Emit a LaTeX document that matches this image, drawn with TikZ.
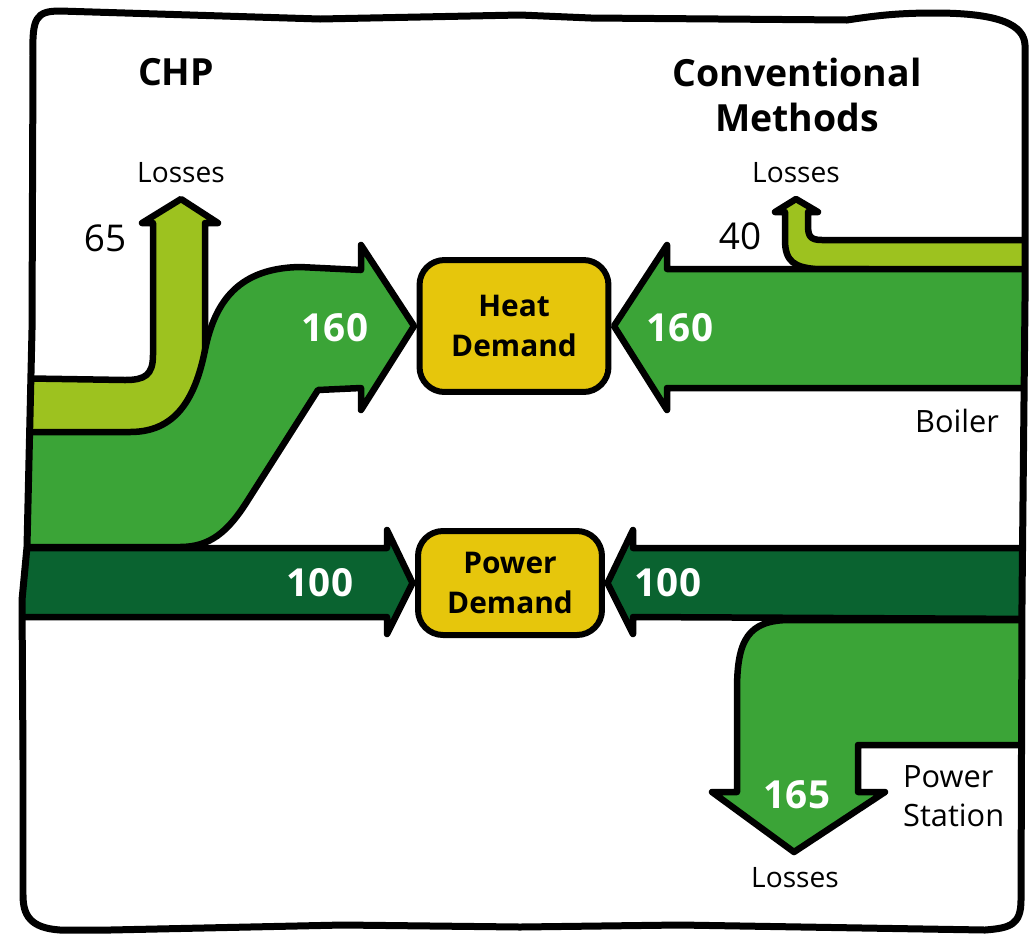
\documentclass[tikz,border=0pt]{standalone}
\usepackage{fontspec}
\setmainfont{Open Sans}
\usetikzlibrary{positioning}

\definecolor{lossgreen}{HTML}{9DC21F}
\definecolor{heatgreen}{HTML}{3BA437}
\definecolor{powergreen}{HTML}{0A6330}
\definecolor{demandyellow}{HTML}{E6C60C}

\begin{document}
\begin{tikzpicture}[
        x=0.02cm, y=-0.02cm,
        flow/.style={draw, line width=0.13cm, line join=round},
        demand/.style={rectangle, draw, line width=0.12cm, rounded corners=0.5cm, outer sep=0.11cm,
            fill=demandyellow, align=center, font=\fontsize{17}{22.5}\selectfont\bfseries},
        val/.style={text=white, font=\fontsize{22}{26}\selectfont\bfseries},
        num/.style={font=\fontsize{21}{25}\selectfont},
        lbl/.style={font=\fontsize{16}{20}\selectfont},
        side/.style={font=\fontsize{17.5}{22.5}\selectfont, align=left},
        title/.style={font=\fontsize{21.3}{26}\selectfont\bfseries, align=center}
    ]
    \useasboundingbox (0,0) rectangle (1034,934);
    \path[save path=\outline] (33,55) .. controls (32,18) and (36,11) .. (60,11) -- (320,19) -- (520,15)
        -- (591,18) -- (847,20) .. controls (880,15) and (900,13) .. (935,13)
        .. controls (1000,13) and (1024,25) .. (1025,45) -- (1025,300) -- (1022,600) -- (1021,900)
        .. controls (1021,925) and (1010,928) .. (985,930) -- (680,925) -- (520,927) -- (343,925)
        -- (110,930) -- (60,930) .. controls (30,928) and (23,915) .. (23,895) -- (23,760)
        -- (22,600) -- (27,547) -- (32,330) -- cycle;

    \node[demand, minimum width=3.78cm, minimum height=2.64cm] (heat) at (514,326) {Heat\\Demand};
    \node[demand, minimum width=3.68cm, minimum height=2.08cm] (power) at (510,583) {Power\\Demand};

    \begin{scope}
        \clip[use path=\outline];
        % CHP side
        \draw[flow, fill=lossgreen] (0,378) -- (125,380) .. controls (145,380) and (153,375) .. (153,355)
            -- (153,223) -- (142,223) -- (181,199) -- (218,223) -- (205,223) -- (205,380)
            -- (175,445) -- (0,445) -- cycle;
        \draw[flow, fill=heatgreen] (0,432) -- (130,432) .. controls (175,432) and (195,400) .. (205,350)
            .. controls (215,300) and (240,268) .. (300,267) -- (361,270) -- (361,245) -- (heat.west)
            -- (361,410) -- (361,388) -- (318,390) -- (248,500) .. controls (228,532) and (210,547) .. (180,547)
            -- (0,547) -- cycle;
        \draw[flow, fill=powergreen] (0,548) -- (387,548) -- (387,530) -- (power.west) -- (387,634)
            -- (387,617) -- (0,617) -- cycle;
        % conventional side
        \draw[flow, fill=lossgreen] (1040,240) -- (822,240) .. controls (810,240) and (808,236) .. (808,225)
            -- (808,212) -- (818,212) -- (796,199) -- (775,212) -- (785,212) -- (785,240)
            .. controls (785,262) and (795,267) .. (815,269) -- (1040,270) -- cycle;
        \draw[flow, fill=heatgreen] (1040,269) -- (667,269) -- (667,245) -- (heat.east) -- (667,410)
            -- (667,388) -- (1040,388) -- cycle;
        \draw[flow, fill=powergreen] (1040,548) -- (633,548) -- (633,530) -- (power.east) -- (633,634)
            -- (633,617) -- (1040,619) -- cycle;
        \draw[flow, fill=heatgreen] (1040,620) -- (790,620) .. controls (748,620) and (737,640) .. (737,690)
            -- (737,792) -- (712,792) -- (794,852) -- (885,792) -- (858,792) -- (858,745) -- (1040,745) -- cycle;
    \end{scope}
    \draw[line width=0.14cm, line join=round, use path=\outline];

    \node[title] (chp) at (176,72) {CHP};
    \node[title] (conv) at (797,95) {Conventional\\Methods};

    \node[lbl] (chploss) at (181,173) {Losses};
    \node[num] (chplossval) at (105,238) {65};
    \node[val] (chpheat) at (335,328) {160};
    \node[val] (chppower) at (320,583) {100};

    \node[lbl] (boilloss) at (796,173) {Losses};
    \node[num] (boillossval) at (740,236) {40};
    \node[val] (boilheat) at (680,328) {160};
    \node[side] (boiler) at (957,421) {Boiler};
    \node[val] (stationpower) at (668,583) {100};
    \node[val] (stationlossval) at (797,795) {165};
    \node[lbl] (stationloss) at (795,878) {Losses};
    \node[side, anchor=west] (station) at (897,796) {Power\\Station};
\end{tikzpicture}
\end{document}
